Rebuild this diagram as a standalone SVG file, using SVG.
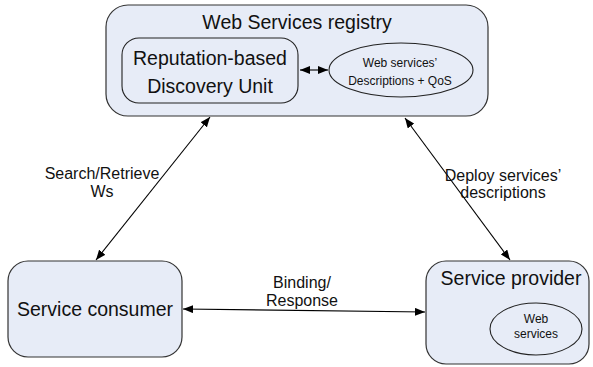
<svg xmlns="http://www.w3.org/2000/svg" width="593" height="367" viewBox="0 0 593 367">
<defs>
<marker id="ah" viewBox="0 0 10 8" refX="10" refY="4" markerWidth="10" markerHeight="8" markerUnits="userSpaceOnUse" orient="auto-start-reverse">
<path d="M0,0 L10,4 L0,8 Z" fill="#000"/>
</marker>
<style>
.box{fill:#E7ECF7;stroke:#333;stroke-width:1.2}
.inner{fill:#E7ECF7;stroke:#222;stroke-width:1.1}
.t{font-family:"Liberation Sans",Arial,sans-serif;fill:#111;text-anchor:middle}
.big{font-size:19.5px}
.mid{font-size:16px}
.sm{font-size:12px}
.conn{stroke:#000;stroke-width:1.1;fill:none;marker-start:url(#ah);marker-end:url(#ah)}
</style>
</defs>
<g id="registry">
<rect class="box" x="106" y="5" width="382" height="111" rx="22" ry="22"/>
<text class="t big" x="297" y="29">Web Services registry</text>
</g>
<g id="discovery-unit">
<rect class="inner" x="122" y="38" width="176" height="65" rx="17" ry="17"/>
<text class="t big" x="210" y="65">Reputation-based</text>
<text class="t big" x="210" y="93">Discovery Unit</text>
</g>
<g id="descriptions">
<ellipse class="inner" cx="401" cy="70" rx="72" ry="27"/>
<text class="t sm" x="400" y="67">Web services’</text>
<text class="t sm" x="400" y="85">Descriptions + QoS</text>
</g>
<g id="consumer">
<rect class="box" x="8" y="261" width="174" height="96" rx="20" ry="20"/>
<text class="t big" x="95" y="316">Service consumer</text>
</g>
<g id="provider">
<rect class="box" x="426" y="261" width="163" height="103" rx="20" ry="20"/>
<text class="t big" x="511" y="285">Service provider</text>
</g>
<g id="web-services">
<ellipse class="inner" cx="536" cy="329" rx="46" ry="26"/>
<text class="t sm" x="536" y="323">Web</text>
<text class="t sm" x="536" y="338">services</text>
</g>
<g id="connectors">
<line class="conn" x1="300" y1="70" x2="328" y2="70"/>
<line class="conn" x1="210" y1="117" x2="96" y2="260"/>
<line class="conn" x1="405" y1="118" x2="510" y2="260"/>
<line class="conn" x1="183" y1="309" x2="425" y2="312"/>
<text class="t mid" x="102" y="179">Search/Retrieve</text>
<text class="t mid" x="102" y="197">Ws</text>
<text class="t mid" x="503" y="181">Deploy services’</text>
<text class="t mid" x="503" y="198">descriptions</text>
<text class="t mid" x="302" y="288">Binding/</text>
<text class="t mid" x="302" y="306">Response</text>
</g>
</svg>
